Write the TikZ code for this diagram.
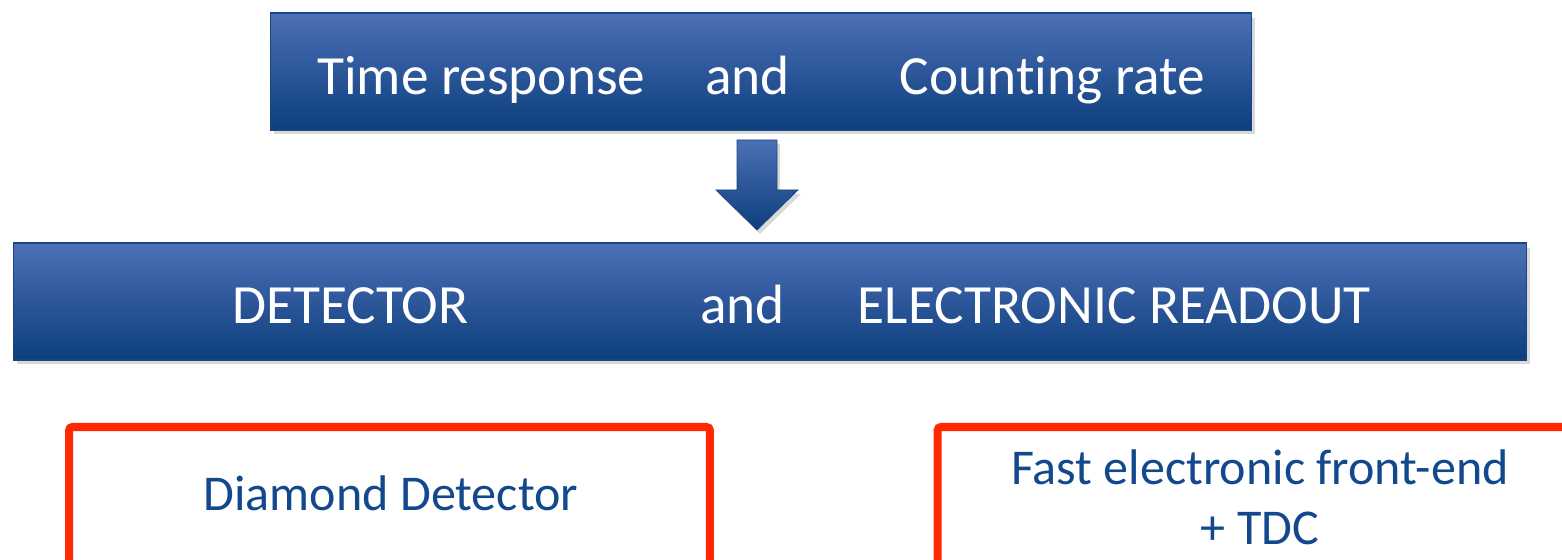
\documentclass[tikz,border=0pt]{standalone}
\usepackage{fontspec}
\setmainfont{Carlito}[Ligatures=NoCommon]
\usepackage{tikz}
\usetikzlibrary{positioning,shadows}

\definecolor{boxtop}{RGB}{76,112,182}
\definecolor{boxbot}{RGB}{12,62,125}
\definecolor{boxline}{RGB}{24,70,130}
\definecolor{redline}{RGB}{255,40,0}
\definecolor{bluetext}{RGB}{18,72,140}

\begin{document}
\begin{tikzpicture}[
  x=0.02cm, y=-0.02cm,
  bluebox/.style={draw=boxline, line width=0.6pt, top color=boxtop, bottom color=boxbot,
    minimum height=2.34cm, inner sep=0pt, text=white, font=\fontsize{31.5}{38}\selectfont,
    drop shadow={opacity=0.3, shadow xshift=0.07cm, shadow yshift=-0.09cm}},
  redbox/.style={draw=redline, line width=4.6pt, rounded corners=2pt, minimum width=12.82cm,
    minimum height=3.6cm, anchor=north, inner sep=0pt, outer sep=0pt},
  redtext/.style={text=bluetext, font=\fontsize{28.5}{34}\selectfont, align=center},
]
\useasboundingbox (0,0) rectangle (1562,560);

% ── goal ──
\node[bluebox, minimum width=19.64cm] (goal) at (761,71.5)
  {\raisebox{-0.47cm}[0pt][0pt]{Time response\hspace{1.2cm}and\hspace{2.2cm}Counting rate}};

% ── block arrow ──
\path[top color=boxtop, bottom color=boxbot, draw=boxline, line width=0.4pt,
  drop shadow={opacity=0.3, shadow xshift=0.06cm, shadow yshift=-0.08cm}]
  (737,140) -- (777,140) -- (777,190) -- (798,190) -- (757,230)
  -- (716,190) -- (737,190) -- cycle;

% ── chain ──
\node[bluebox, minimum width=30.28cm] (chain) at (770,301.5)
  {\raisebox{-0.44cm}[0pt][0pt]{\hspace*{1.26cm}DETECTOR\hspace{4.64cm}and\hspace{1.46cm}ELECTRONIC READOUT}};

% ── parts ──
\node[redbox] (diam) at (389.5,427) {};
\node[redbox] (fee) at (1258,427) {};

\node[redtext] (diamtxt) at (391,493) {Diamond Detector};
\node[redtext] (feetxt) at (1260,497) {Fast electronic front-end\\+ TDC};

\end{tikzpicture}
\end{document}
